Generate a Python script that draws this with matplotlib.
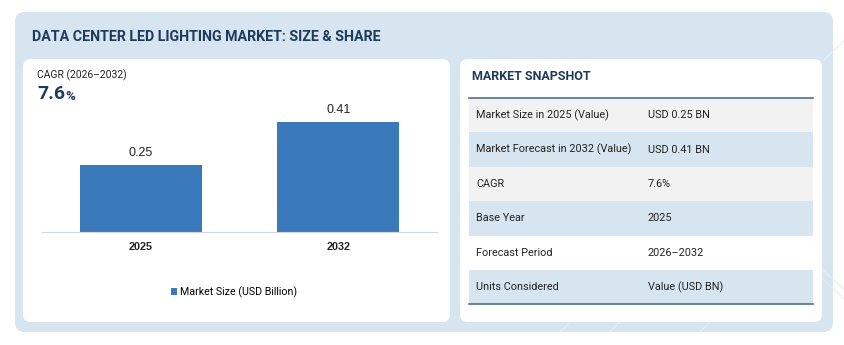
import matplotlib
matplotlib.use("Agg")
import matplotlib.pyplot as plt
from matplotlib.patches import FancyBboxPatch, Rectangle

# data
years = ["2025", "2032"]
market_size = [0.25, 0.41]
bar_labels = ["0.25", "0.41"]
cagr_text = "7.6"
cagr_period = "CAGR (2026\u20132032)"
legend_label = "Market Size (USD Billion)"
title = "DATA CENTER LED LIGHTING MARKET: SIZE & SHARE"
snapshot_title = "MARKET SNAPSHOT"
snapshot_keys = ["Market Size in 2025 (Value)", "Market Forecast in 2032 (Value)", "CAGR",
                 "Base Year", "Forecast Period", "Units Considered"]
snapshot_vals = ["USD 0.25 BN", "USD 0.41 BN", "7.6%", "2025", "2026\u20132032", "Value (USD BN)"]

navy = "#1f3b5c"
light_blue = "#d7e5f1"
bar_color = "#3b7aba"
row_colors = ["#f2f2f2", "#d7e5f1", "#f2f2f2", "#d7e5f1", "#ffffff", "#d7e5f1"]

plt.rcParams['font.family'] = ['Roboto', 'DejaVu Sans']

W, H = 845, 345
fig = plt.figure(figsize=(W / 100, H / 100), dpi=100)
fig.patch.set_facecolor("white")

# background canvas in pixel coordinates (y down)
bg = fig.add_axes([0, 0, 1, 1])
bg.set_xlim(0, W)
bg.set_ylim(H, 0)
bg.axis("off")

bg.add_patch(FancyBboxPatch((15, 12), 818, 320, boxstyle="round,pad=0,rounding_size=10",
                            fc=light_blue, ec="none"))
# faint decorative lines
for (x0, y0, x1, y1) in [(610, 332, 740, 200), (740, 200, 845, 300), (700, 332, 790, 240),
                         (790, 240, 845, 290), (760, 120, 845, 40), (560, 332, 650, 250)]:
    bg.plot([x0, x1], [y0, y1], color="#e6edf4", lw=0.8, zorder=1)

bg.add_patch(FancyBboxPatch((23, 59), 427, 263, boxstyle="round,pad=0,rounding_size=8",
                            fc="white", ec="none", zorder=2))
bg.add_patch(FancyBboxPatch((460, 59), 362, 263, boxstyle="round,pad=0,rounding_size=8",
                            fc="white", ec="none", zorder=2))

bg.text(32, 37, title, fontsize=10.3, fontweight="bold", color=navy, va="center", ha="left")

# CAGR block
bg.text(37, 75, cagr_period, fontsize=7.5, color="#222222", va="center", ha="left", zorder=3)
bg.text(37, 94, cagr_text, fontsize=14, fontweight="bold", color=navy, va="center", ha="left", zorder=3)
bg.text(65.5, 96, "%", fontsize=9.5, fontweight="bold", color=navy, va="center", ha="left", zorder=3)

# snapshot table
bg.text(472, 77, snapshot_title, fontsize=9, fontweight="bold", color=navy, va="center", ha="left", zorder=3)
row_top = 98
row_h = 34.4
for i, (k, v) in enumerate(zip(snapshot_keys, snapshot_vals)):
    y = row_top + i * row_h
    bg.add_patch(Rectangle((469, y), 344, row_h, fc=row_colors[i], ec="none", zorder=3))
    bg.text(476, y + row_h / 2, k, fontsize=7.8, color="#222222", va="center", ha="left", zorder=4)
    bg.text(648, y + row_h / 2, v, fontsize=7.8, color="#222222", va="center", ha="left", zorder=4)
bg.plot([469, 813], [row_top, row_top], color="#4d6f91", lw=1.2, zorder=5)
bot = row_top + len(snapshot_keys) * row_h
bg.plot([469, 813], [bot, bot], color="#4d6f91", lw=1.2, zorder=5)

# bar chart axes
ax_left, ax_right = 42, 437
base_y, top_y = 232, 100
ax = fig.add_axes([ax_left / W, (H - base_y) / H, (ax_right - ax_left) / W, (base_y - top_y) / H])
ax.patch.set_alpha(0)
x = list(range(len(years)))
bars = ax.bar(x, market_size, width=0.62, color=bar_color, label=legend_label)
for xi, val, lab in zip(x, market_size, bar_labels):
    ax.text(xi, val + 0.02, lab, ha="center", va="bottom", fontsize=9,
            family="Liberation Sans", color="#222222")
ax.set_xlim(-0.5, 1.5)
ax.set_ylim(0, 0.49)
ax.set_xticks(x)
ax.set_xticklabels(years, fontsize=7.8, fontweight="bold", family="Liberation Sans", color="#222222")
ax.tick_params(axis="x", length=0, pad=7)
ax.set_yticks([])
for s in ["top", "right", "left"]:
    ax.spines[s].set_visible(False)
ax.spines["bottom"].set_color("#d0d6dc")
ax.spines["bottom"].set_linewidth(0.8)

leg = ax.legend(loc="center", frameon=False, fontsize=7.7, handlelength=0.6,
                handleheight=0.6, handletextpad=0.3)
leg.set_bbox_to_anchor((234 / W, (H - 292) / H), transform=fig.transFigure)

fig.savefig("out.png", dpi=100, facecolor="white")
